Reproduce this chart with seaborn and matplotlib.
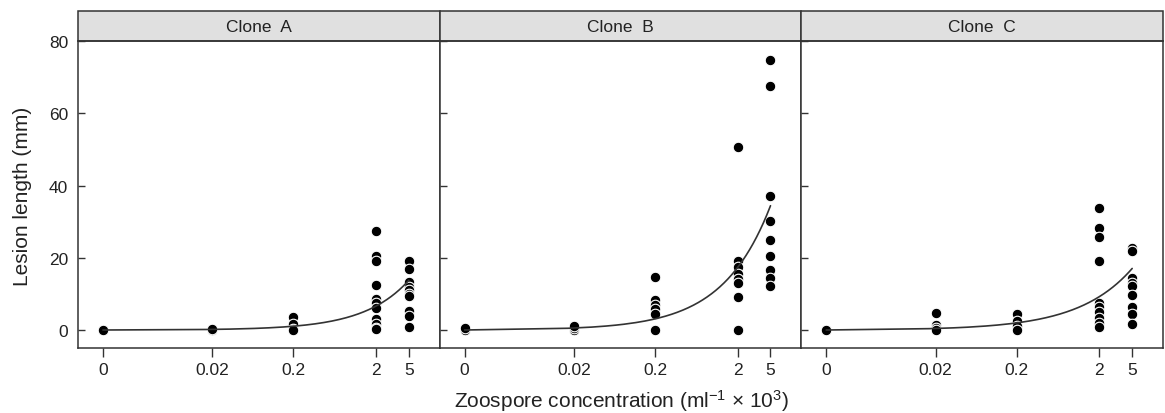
import numpy as np
import pandas as pd
import seaborn as sns
import matplotlib.pyplot as plt
from matplotlib.patches import Rectangle

# lesion length (mm) per clone, one list per zoospore dose
clones = ["A", "B", "C"]
doses = [0, 0.02, 0.2, 2, 5]
dose_labels = ["0", "0.02", "0.2", "2", "5"]

lesion_a = [[0.0, 0.0],
            [0.0, 0.2],
            [3.6, 1.8, 0.3, 0.0],
            [27.5, 20.6, 19.2, 12.5, 8.5, 7.5, 6.2, 3.0, 1.8, 0.6, 0.2],
            [19.2, 17.0, 13.2, 12.0, 11.0, 10.0, 9.5, 5.2, 3.8, 0.7]]
lesion_b = [[0.0, 0.6],
            [0.0, 0.5, 1.0],
            [14.7, 8.3, 7.0, 5.8, 4.5, 0.0],
            [50.7, 19.0, 17.5, 15.5, 14.0, 13.0, 9.2, 0.0],
            [74.8, 67.7, 37.2, 30.1, 25.0, 20.4, 16.6, 14.3, 12.2]]
lesion_c = [[0.0, 0.0],
            [4.7, 1.3, 0.5, 0.0],
            [4.5, 2.4, 1.2, 0.0],
            [33.8, 28.2, 25.7, 19.0, 7.6, 6.3, 5.0, 3.4, 2.0, 0.9],
            [22.8, 21.8, 14.3, 13.0, 12.3, 9.6, 6.3, 4.5, 1.8]]

# fitted curve y = a * x^b
fit_scale = [3.8, 10.3, 5.8]
fit_power = [0.80, 0.75, 0.67]

rows = []
for clone, lesions in zip(clones, [lesion_a, lesion_b, lesion_c]):
    for d, vals in zip(doses, lesions):
        for v in vals:
            rows.append({"clone": clone, "dose": d, "lesion": v})
df = pd.DataFrame(rows)

xs = np.linspace(0, max(doses), 300)
fit = pd.concat([pd.DataFrame({"clone": c, "dose": xs, "lesion": a * xs ** b})
                 for c, a, b in zip(clones, fit_scale, fit_power)])

sns.set_style("ticks")
plt.rcParams["font.family"] = ["Liberation Sans", "DejaVu Sans"]
plt.rcParams["mathtext.default"] = "regular"
ink = "#222222"

g = sns.FacetGrid(df, col="clone", col_order=clones, sharex=True, sharey=True,
                  height=4.14, aspect=1.0, despine=False)
g.figure.set_size_inches(11.65, 4.14)
g.figure.subplots_adjust(left=78 / 1165, right=1163 / 1165,
                         bottom=1 - 349.3 / 414, top=1 - 42.3 / 414, wspace=0)

fwd = lambda x: np.log10(np.clip(np.asarray(x, dtype=float) + 0.001, 1e-9, None))
inv = lambda t: 10 ** np.asarray(t, dtype=float) - 0.001

for ax, clone in zip(g.axes.flat, clones):
    ax.set_xscale("function", functions=(fwd, inv))
    sns.scatterplot(data=df[df.clone == clone], x="dose", y="lesion", ax=ax,
                    color="black", edgecolor="white", linewidth=0.8, s=58, zorder=2)
    sns.lineplot(data=fit[fit.clone == clone], x="dose", y="lesion", ax=ax,
                 color="#333333", linewidth=1.2, zorder=3)
    ax.set_xlim(-0.0005, 11.8)
    ax.set_ylim(-5.07, 80)
    ax.set_xticks(doses)
    ax.set_xticklabels(dose_labels)
    ax.set_yticks([0, 20, 40, 60, 80])
    ax.minorticks_off()
    ax.set_xlabel("")
    ax.set_ylabel("")
    ax.set_title("")
    for sp in ax.spines.values():
        sp.set_color("#333333")
        sp.set_linewidth(1.1)
    ax.tick_params(axis="x", direction="out", length=6.5, width=1, pad=3.5,
                   labelsize=12.5, colors="#333333", labelcolor=ink)
    ax.tick_params(axis="y", direction="in", length=5, width=1, pad=7,
                   labelsize=12.5, colors="#333333", labelcolor=ink)
    strip_h = 30.3 / 307
    ax.add_patch(Rectangle((0, 1), 1, strip_h, transform=ax.transAxes, clip_on=False,
                           facecolor="#e0e0e0", edgecolor="#333333", linewidth=1.1))
    ax.text(0.5, 1 + strip_h / 2, "Clone  " + clone, transform=ax.transAxes,
            ha="center", va="center", fontsize=12.5, color=ink)

g.figure.text(622 / 1165, 1 - 401 / 414, r"Zoospore concentration (ml$^{-1}$ × 10$^{3}$)",
              ha="center", va="center", fontsize=15, color=ink)
g.figure.text(23 / 1165, 1 - 196 / 414, "Lesion length (mm)", rotation=90,
              ha="center", va="center", fontsize=15, color=ink)

g.figure.savefig("out.png", dpi=100)
